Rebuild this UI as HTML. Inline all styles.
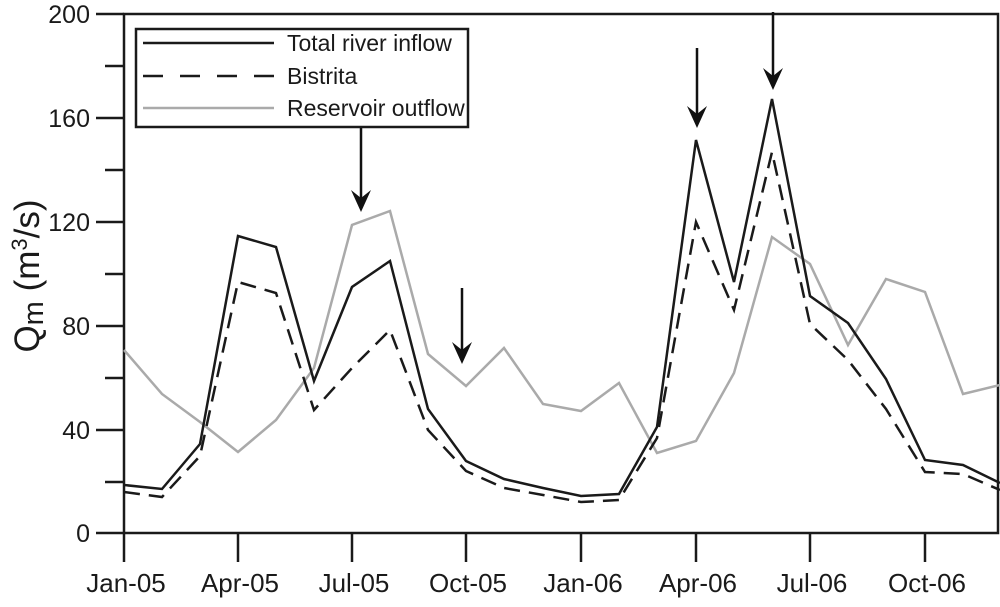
<!DOCTYPE html><html><head><style>body{margin:0;background:#fff}</style></head><body>
<svg width="1000" height="602" viewBox="0 0 1000 602" xmlns="http://www.w3.org/2000/svg" font-family="Liberation Sans, sans-serif">
<rect x="124" y="14" width="874" height="519" fill="none" stroke="#1a1a1a" stroke-width="2.5"/>
<g stroke="#1a1a1a" stroke-width="2.5">
<line x1="96" y1="533" x2="124" y2="533"/><line x1="96" y1="430" x2="124" y2="430"/><line x1="96" y1="326" x2="124" y2="326"/><line x1="96" y1="222" x2="124" y2="222"/><line x1="96" y1="118" x2="124" y2="118"/><line x1="96" y1="14" x2="124" y2="14"/>
<line x1="105" y1="482" x2="124" y2="482"/><line x1="105" y1="378" x2="124" y2="378"/><line x1="105" y1="274" x2="124" y2="274"/><line x1="105" y1="170" x2="124" y2="170"/><line x1="105" y1="66" x2="124" y2="66"/>
<line x1="124" y1="533" x2="124" y2="562"/><line x1="238" y1="533" x2="238" y2="562"/><line x1="352" y1="533" x2="352" y2="562"/><line x1="466" y1="533" x2="466" y2="562"/><line x1="581" y1="533" x2="581" y2="562"/><line x1="696" y1="533" x2="696" y2="562"/><line x1="810" y1="533" x2="810" y2="562"/><line x1="925" y1="533" x2="925" y2="562"/>
</g>
<g font-size="25" fill="#1a1a1a" text-anchor="end">
<text x="90" y="542">0</text><text x="90" y="439">40</text><text x="90" y="335">80</text><text x="90" y="231">120</text><text x="90" y="127">160</text><text x="90" y="23">200</text>
</g>
<g font-size="26" fill="#1a1a1a" text-anchor="middle">
<text x="126" y="592">Jan-05</text><text x="240" y="592">Apr-05</text><text x="354" y="592">Jul-05</text><text x="468" y="592">Oct-05</text><text x="583" y="592">Jan-06</text><text x="698" y="592">Apr-06</text><text x="812" y="592">Jul-06</text><text x="927" y="592">Oct-06</text>
</g>
<text transform="translate(39,276) rotate(-90)" font-size="35" fill="#1a1a1a" text-anchor="middle">Q<tspan font-size="29" dy="4">m</tspan><tspan dy="-4"> (m</tspan><tspan font-size="22" dy="-12">3</tspan><tspan dy="12">/s)</tspan></text>
<polyline fill="none" stroke="#aaa" stroke-width="2.5" points="124,350 162,394 200,422 238,452 276,420 314,368 352,225 390,211 428,354 466,386 504,348 543,404 581,411 619,383 657,453 696,441 734,373 772,237 810,264 848,345 886,279 925,292 963,394 1000,385"/>
<polyline fill="none" stroke="#1a1a1a" stroke-width="2.5" stroke-dasharray="16,9" points="124,492 162,497 200,456 238,282 276,293 314,410 352,368 390,330 428,430 466,471 504,488 543,495 581,502 619,500 657,438 696,222 734,310 772,152 810,324 848,360 886,409 925,472 963,474 1000,490"/>
<polyline fill="none" stroke="#1a1a1a" stroke-width="2.5" points="124,485 162,489 200,444 238,236 276,247 314,381 352,287 390,261 428,409 466,461 504,479 543,488 581,496 619,494 657,427 696,140 734,282 772,99 810,296 848,323 886,379 925,460 963,465 1000,483"/>
<g stroke="#111" stroke-width="2.5">
<line x1="361" y1="110" x2="361" y2="200"/><line x1="462" y1="288" x2="462" y2="352"/><line x1="697" y1="48" x2="697" y2="116"/><line x1="773" y1="12" x2="773" y2="78"/>
</g>
<g fill="#111">
<path d="M351,190 L361,212 L371,190 L361,198 Z"/>
<path d="M452,342 L462,364 L472,342 L462,350 Z"/>
<path d="M687,106 L697,128 L707,106 L697,114 Z"/>
<path d="M763,68 L773,90 L783,68 L773,76 Z"/>
</g>
<rect x="136" y="29" width="332" height="98" fill="#fff" stroke="#1a1a1a" stroke-width="2.5"/>
<line x1="143" y1="43" x2="274" y2="43" stroke="#1a1a1a" stroke-width="2.5"/>
<line x1="143" y1="76" x2="274" y2="76" stroke="#1a1a1a" stroke-width="2.5" stroke-dasharray="20,17"/>
<line x1="143" y1="108" x2="274" y2="108" stroke="#aaa" stroke-width="2.5"/>
<g font-size="23" fill="#1a1a1a"><text x="287" y="51">Total river inflow</text><text x="287" y="84">Bistrita</text><text x="287" y="116">Reservoir outflow</text></g>
</svg></body></html>
